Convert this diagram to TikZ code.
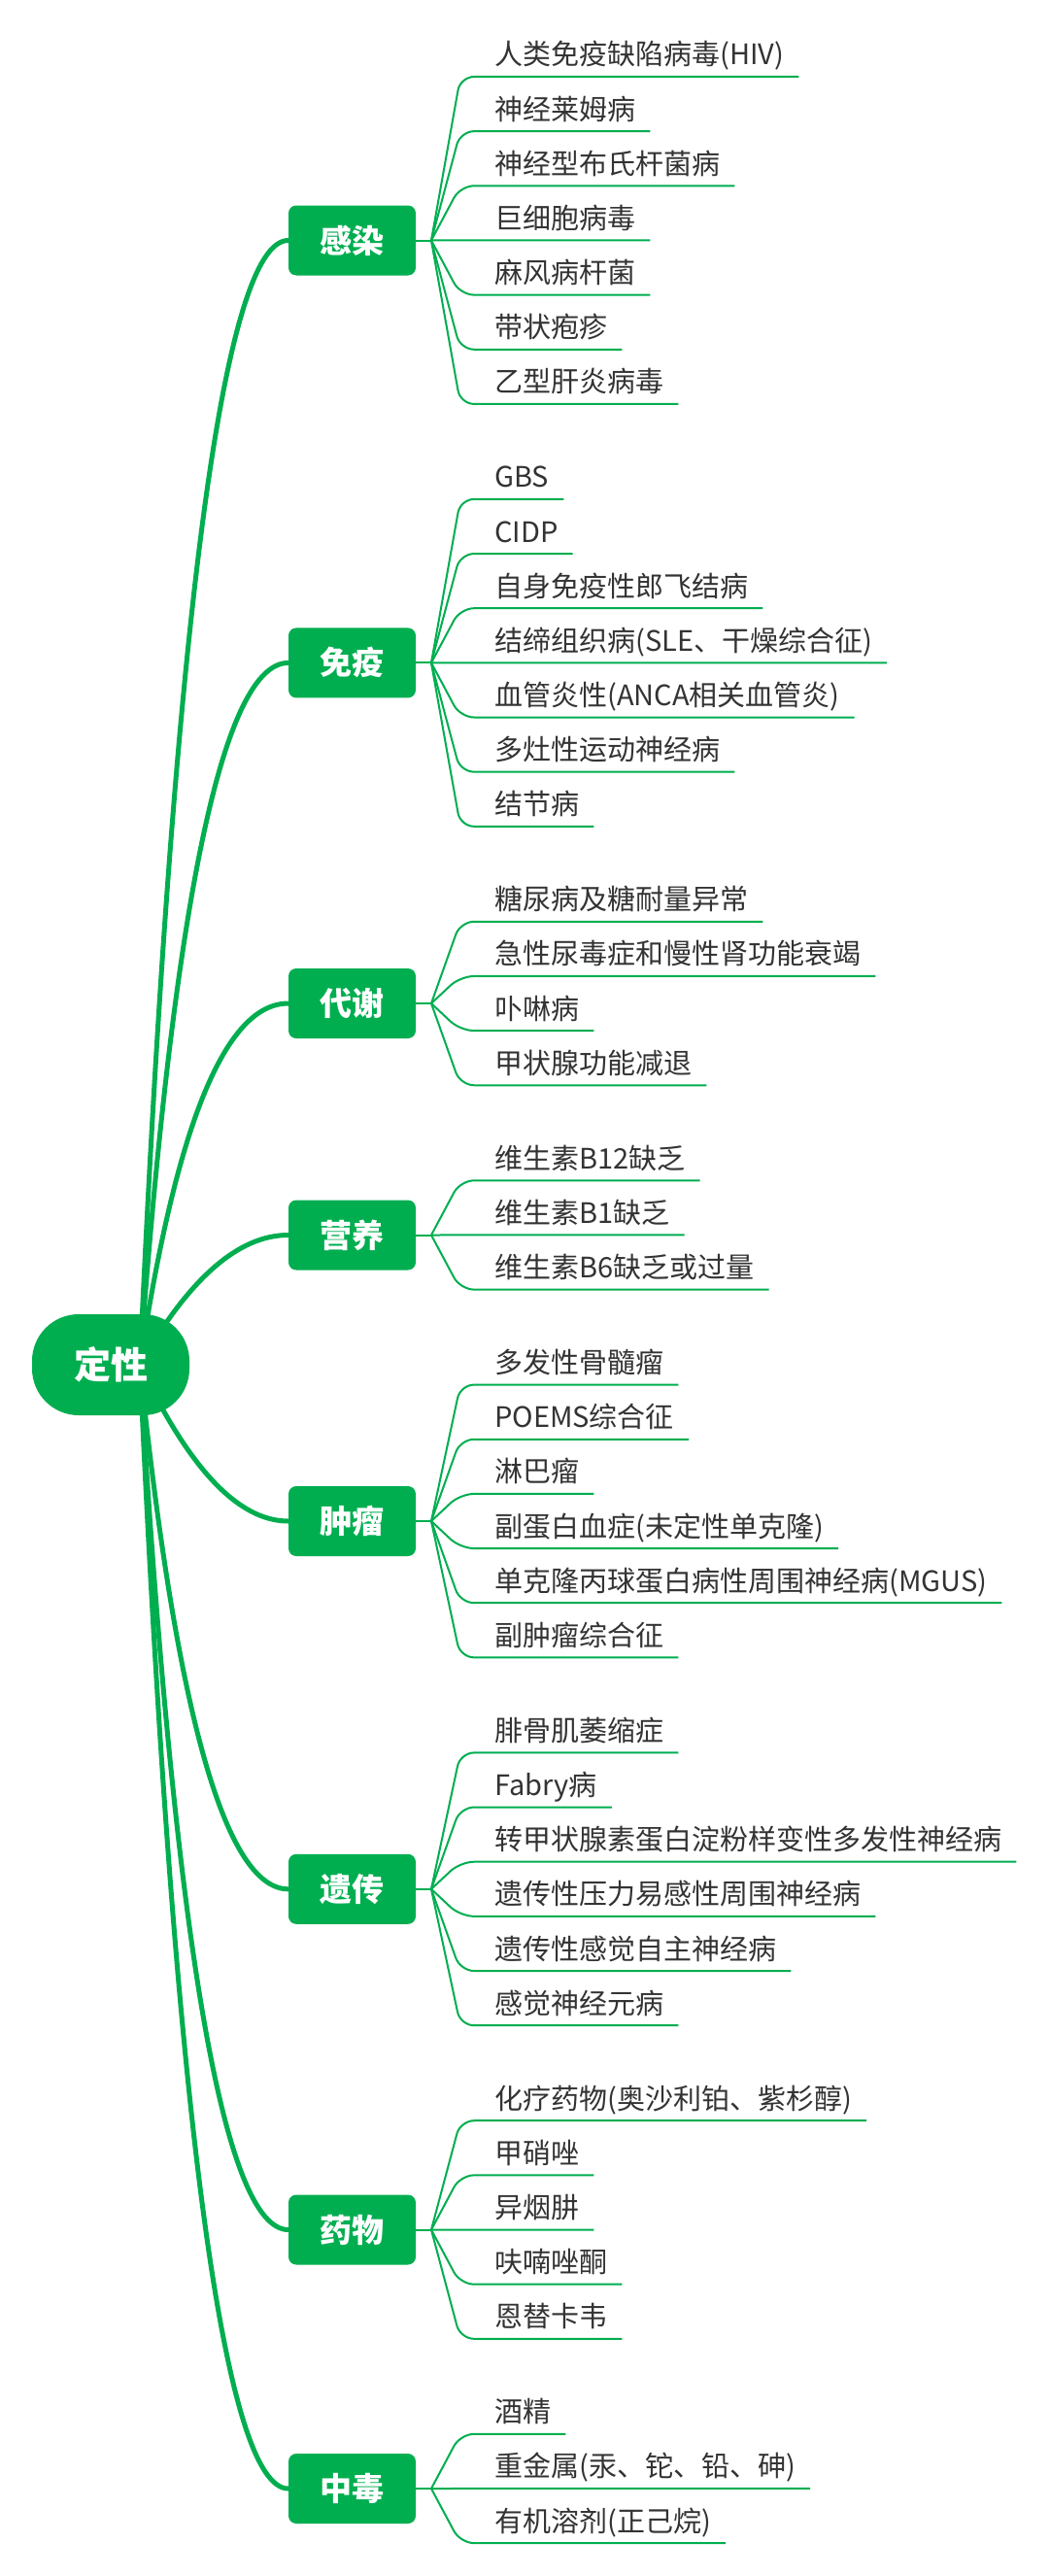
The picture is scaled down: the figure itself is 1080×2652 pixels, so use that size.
\documentclass[tikz,border=0pt]{standalone}
\usepackage{fontspec}
\setmainfont{Noto Sans CJK SC}
\usetikzlibrary{backgrounds}

\definecolor{mindgreen}{RGB}{0,174,80}
\definecolor{leafgray}{RGB}{51,51,51}

\tikzset{
  rootbox/.style={rectangle,rounded corners=48pt,fill=mindgreen,text=white,
    minimum width=162pt,minimum height=104pt,inner sep=0pt,
    font=\fontsize{38}{38}\selectfont\bfseries},
  topic/.style={rectangle,rounded corners=8pt,fill=mindgreen,text=white,
    minimum width=131pt,minimum height=72pt,inner sep=0pt,
    font=\fontsize{33}{33}\selectfont\bfseries},
  leaf/.style={anchor=base west,inner sep=0pt,text=leafgray,
    font=\fontsize{29}{29}\selectfont},
  branch/.style={draw=mindgreen,line width=5pt,line cap=round},
  twig/.style={draw=mindgreen,line width=2pt,rounded corners=14pt},
}

\begin{document}
\begin{tikzpicture}[x=1pt,y=-1pt]
        \useasboundingbox (0,0) rectangle (1080,2652);
        %
        \node[rootbox] (dingxing) at (114,1405) {定性};
        \coordinate (hub) at (144,1405);
        %
        \node[topic] (ganran)   at (362.5,247.5)  {感染};
        \node[topic] (mianyi)   at (362.5,682.4)  {免疫};
        \node[topic] (daixie)   at (362.5,1033)   {代谢};
        \node[topic] (yingyang) at (362.5,1271.5) {营养};
        \node[topic] (zhongliu) at (362.5,1566)   {肿瘤};
        \node[topic] (yichuan)  at (362.5,1944.8) {遗传};
        \node[topic] (yaowu)    at (362.5,2295.5) {药物};
        \node[topic] (zhongdu)  at (362.5,2562)   {中毒};
        %
        \begin{scope}[on background layer]
        \fill[white] (0,0) rectangle (1080,2652);
        \draw[branch] (hub) .. controls (179.3,633.3)  and (230.3,247.5)  .. (ganran.west);
        \draw[branch] (hub) .. controls (179.3,923.3)  and (230.3,682.4)  .. (mianyi.west);
        \draw[branch] (hub) .. controls (181.3,1157)   and (232.3,1033)   .. (daixie.west);
        \draw[branch] (hub) .. controls (194.7,1316)   and (245.7,1271.5) .. (yingyang.west);
        \draw[branch] (hub) .. controls (194.7,1512.3) and (245.7,1566)   .. (zhongliu.west);
        \draw[branch] (hub) .. controls (181.3,1764.9) and (232.3,1944.8) .. (yichuan.west);
        \draw[branch] (hub) .. controls (179.3,1998.7) and (230.3,2295.5) .. (yaowu.west);
        \draw[branch] (hub) .. controls (179.3,2176.3) and (230.3,2562)   .. (zhongdu.west);
        \end{scope}
        %
        % forks
        \coordinate (ganran-fork)   at (444,247.5);
        \coordinate (mianyi-fork)   at (444,682.4);
        \coordinate (daixie-fork)   at (444,1033);
        \coordinate (yingyang-fork) at (444,1271.5);
        \coordinate (zhongliu-fork) at (444,1566);
        \coordinate (yichuan-fork)  at (444,1944.8);
        \coordinate (yaowu-fork)    at (444,2295.5);
        \coordinate (zhongdu-fork)  at (444,2562);
        \foreach \grp in {ganran,mianyi,daixie,yingyang,zhongliu,yichuan,yaowu,zhongdu}
          \draw[twig] (\grp.east) -- (\grp-fork);
        %
        \foreach \txt [count=\i] in {{人类免疫缺陷病毒(HIV)},{神经莱姆病},{神经型布氏杆菌病},{巨细胞病毒},{麻风病杆菌},{带状疱疹},{乙型肝炎病毒}}{
          \pgfmathsetmacro\yy{79+(\i-1)*56.15}
          \node[leaf] (ganran-\i) at (509,\yy-12) {\txt};
          \draw[twig] (ganran-fork) -- (474,\yy) -- ([shift={(15,12)}]ganran-\i.base east);
        }
        \foreach \txt [count=\i] in {{GBS},{CIDP},{自身免疫性郎飞结病},{结缔组织病(SLE、干燥综合征)},{血管炎性(ANCA相关血管炎)},{多灶性运动神经病},{结节病}}{
          \pgfmathsetmacro\yy{513.9+(\i-1)*56.15}
          \node[leaf] (mianyi-\i) at (509,\yy-12) {\txt};
          \draw[twig] (mianyi-fork) -- (474,\yy) -- ([shift={(15,12)}]mianyi-\i.base east);
        }
        \foreach \txt [count=\i] in {{糖尿病及糖耐量异常},{急性尿毒症和慢性肾功能衰竭},{卟啉病},{甲状腺功能减退}}{
          \pgfmathsetmacro\yy{948.8+(\i-1)*56.15}
          \node[leaf] (daixie-\i) at (509,\yy-12) {\txt};
          \draw[twig] (daixie-fork) -- (474,\yy) -- ([shift={(15,12)}]daixie-\i.base east);
        }
        \foreach \txt [count=\i] in {{维生素B12缺乏},{维生素B1缺乏},{维生素B6缺乏或过量}}{
          \pgfmathsetmacro\yy{1215.3+(\i-1)*56.15}
          \node[leaf] (yingyang-\i) at (509,\yy-12) {\txt};
          \draw[twig] (yingyang-fork) -- (474,\yy) -- ([shift={(15,12)}]yingyang-\i.base east);
        }
        \foreach \txt [count=\i] in {{多发性骨髓瘤},{POEMS综合征},{淋巴瘤},{副蛋白血症(未定性单克隆)},{单克隆丙球蛋白病性周围神经病(MGUS)},{副肿瘤综合征}}{
          \pgfmathsetmacro\yy{1425.6+(\i-1)*56.15}
          \node[leaf] (zhongliu-\i) at (509,\yy-12) {\txt};
          \draw[twig] (zhongliu-fork) -- (474,\yy) -- ([shift={(15,12)}]zhongliu-\i.base east);
        }
        \foreach \txt [count=\i] in {{腓骨肌萎缩症},{Fabry病},{转甲状腺素蛋白淀粉样变性多发性神经病},{遗传性压力易感性周围神经病},{遗传性感觉自主神经病},{感觉神经元病}}{
          \pgfmathsetmacro\yy{1804.4+(\i-1)*56.15}
          \node[leaf] (yichuan-\i) at (509,\yy-12) {\txt};
          \draw[twig] (yichuan-fork) -- (474,\yy) -- ([shift={(15,12)}]yichuan-\i.base east);
        }
        \foreach \txt [count=\i] in {{化疗药物(奥沙利铂、紫杉醇)},{甲硝唑},{异烟肼},{呋喃唑酮},{恩替卡韦}}{
          \pgfmathsetmacro\yy{2183.2+(\i-1)*56.15}
          \node[leaf] (yaowu-\i) at (509,\yy-12) {\txt};
          \draw[twig] (yaowu-fork) -- (474,\yy) -- ([shift={(15,12)}]yaowu-\i.base east);
        }
        \foreach \txt [count=\i] in {{酒精},{重金属(汞、铊、铅、砷)},{有机溶剂(正己烷)}}{
          \pgfmathsetmacro\yy{2505.8+(\i-1)*56.15}
          \node[leaf] (zhongdu-\i) at (509,\yy-12) {\txt};
          \draw[twig] (zhongdu-fork) -- (474,\yy) -- ([shift={(15,12)}]zhongdu-\i.base east);
        }
        %
\end{tikzpicture}
\end{document}
